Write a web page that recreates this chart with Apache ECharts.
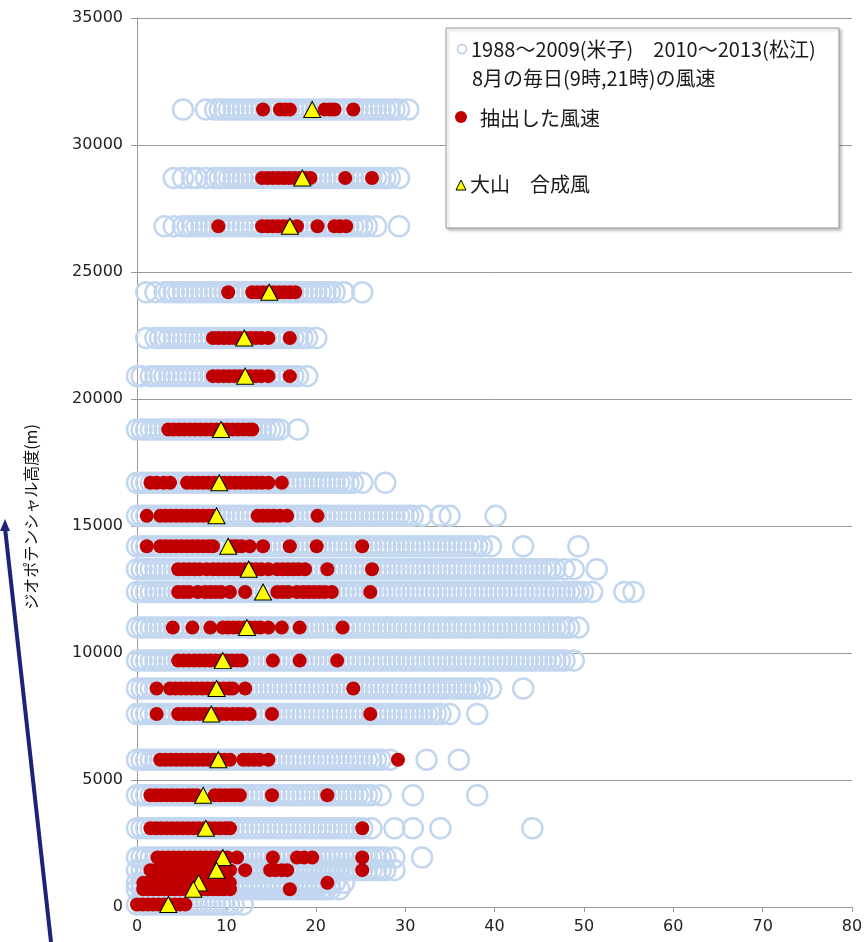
<!DOCTYPE html>
<html>
<head>
<meta charset="utf-8">
<script src="https://cdn.jsdelivr.net/npm/echarts@6/dist/echarts.min.js"></script>
<style>
html, body { margin: 0; padding: 0; background: #fff; }
#chart { width: 867px; height: 942px; }
</style>
</head>
<body>
<div id="chart"></div>
<script>
'use strict';
// pressure levels, geopotential height (m), top to bottom
var levels = [31400, 28700, 26800, 24200, 22400, 20900, 18800, 16700, 15400, 14200, 13300, 12400,
	11000, 9700, 8600, 7600, 5800, 4400, 3100, 1950, 1450, 950, 700, 100];

var obsKnots = [
	[10,15,17,18,19,20,21,22,23,24,25,26,27,28,29,30,31,32,33,34,35,36,37,38,39,40,41,42,43,44,45,46,47,48,49,50,51,52,53,54,55,56,57,59],
	[8,10,12,13,15,17,18,19,20,21,22,23,24,25,26,27,28,29,30,31,32,33,34,35,36,37,38,39,40,41,42,43,44,45,46,47,48,49,50,51,52,53,54,55,57],
	[6,8,10,11,12,13,14,15,16,17,18,19,20,21,22,23,24,25,26,27,28,29,30,31,32,33,34,35,36,37,38,39,40,41,42,43,44,45,46,47,48,49,50,52,57],
	[2,4,6,7,8,9,10,11,12,13,14,15,16,17,18,19,20,21,22,23,24,25,26,27,28,29,30,31,32,33,34,35,36,37,38,39,40,41,42,43,45,49],
	[2,4,5,6,7,8,9,10,11,12,13,14,15,16,17,18,19,20,21,22,23,24,25,26,27,28,29,30,31,32,33,34,35,36,37,39],
	[0,1,3,4,5,6,7,8,9,10,11,12,13,14,15,16,17,18,19,20,21,22,23,24,25,26,27,28,29,30,31,32,33,34,35,37],
	[0,1,2,3,4,5,6,7,8,9,10,11,12,13,14,15,16,17,18,19,20,21,22,23,24,25,26,27,28,29,30,31,35],
	[0,1,2,3,4,5,6,7,8,9,10,11,12,13,14,15,16,17,18,19,20,21,22,23,24,25,26,27,28,29,30,31,32,33,34,35,36,37,38,39,40,41,42,43,44,45,46,47,49,54],
	[0,1,2,3,4,5,6,7,8,9,10,11,12,13,14,15,16,17,18,19,20,21,22,23,24,25,26,27,28,29,30,31,32,33,34,35,36,37,38,39,40,41,42,43,44,45,46,47,48,49,50,51,52,53,54,55,56,57,58,59,60,62,66,68,78],
	[0,1,2,3,4,5,6,7,8,9,10,11,12,13,14,15,16,17,18,19,20,21,22,23,24,25,26,27,28,29,30,31,32,33,34,35,36,37,38,39,40,41,42,43,44,45,46,47,48,49,50,51,52,53,54,55,56,57,58,59,60,61,62,63,64,65,66,67,68,69,70,71,72,73,74,75,77,84,96],
	[0,1,2,3,4,5,6,7,8,9,10,11,12,13,14,15,16,17,18,19,20,21,22,23,24,25,26,27,28,29,30,31,32,33,34,35,36,37,38,39,40,41,42,43,44,45,46,47,48,49,50,51,52,53,54,55,56,57,58,59,60,61,62,63,64,65,66,67,68,69,70,71,72,73,74,75,76,77,78,79,80,81,82,83,84,85,86,87,88,89,90,91,93,95,100],
	[0,1,2,3,4,5,6,7,8,9,10,11,12,13,14,15,16,17,18,19,20,21,22,23,24,25,26,27,28,29,30,31,32,33,34,35,36,37,38,39,40,41,42,43,44,45,46,47,48,49,50,51,52,53,54,55,56,57,58,59,60,61,62,63,64,65,66,67,68,69,70,71,72,73,74,75,76,77,78,79,80,81,82,83,84,85,86,87,88,89,90,91,92,93,94,95,96,97,99,106,108],
	[0,1,2,3,4,5,6,7,8,9,10,11,12,13,14,15,16,17,18,19,20,21,22,23,24,25,26,27,28,29,30,31,32,33,34,35,36,37,38,39,40,41,42,43,44,45,46,47,48,49,50,51,52,53,54,55,56,57,58,59,60,61,62,63,64,65,66,67,68,69,70,71,72,73,74,75,76,77,78,79,80,81,82,83,84,85,86,87,88,89,90,91,92,93,94,96],
	[0,1,2,3,4,5,6,7,8,9,10,11,12,13,14,15,16,17,18,19,20,21,22,23,24,25,26,27,28,29,30,31,32,33,34,35,36,37,38,39,40,41,42,43,44,45,46,47,48,49,50,51,52,53,54,55,56,57,58,59,60,61,62,63,64,65,66,67,68,69,70,71,72,73,74,75,76,77,78,79,80,81,82,83,84,85,86,87,88,89,90,91,92,93,95],
	[0,1,2,3,4,5,6,7,8,9,10,11,12,13,14,15,16,17,18,19,20,21,22,23,24,25,26,27,28,29,30,31,32,33,34,35,36,37,38,39,40,41,42,43,44,45,46,47,48,49,50,51,52,53,54,55,56,57,58,59,60,61,62,63,64,65,66,67,68,69,70,71,72,73,74,75,77,84],
	[0,1,2,3,4,5,6,7,8,9,10,11,12,13,14,15,16,17,18,19,20,21,22,23,24,25,26,27,28,29,30,31,32,33,34,35,36,37,38,39,40,41,42,43,44,45,46,47,48,49,50,51,52,53,54,55,56,57,58,59,60,61,62,63,64,65,66,68,74],
	[0,1,2,3,4,5,6,7,8,9,10,11,12,13,14,15,16,17,18,19,20,21,22,23,24,25,26,27,28,29,30,31,32,33,34,35,36,37,38,39,40,41,42,43,44,45,46,47,48,49,50,51,52,53,55,63,70],
	[0,1,2,3,4,5,6,7,8,9,10,11,12,13,14,15,16,17,18,19,20,21,22,23,24,25,26,27,28,29,30,31,32,33,34,35,36,37,38,39,40,41,42,43,44,45,46,47,48,49,50,51,53,60,74],
	[0,1,2,3,4,5,6,7,8,9,10,11,12,13,14,15,16,17,18,19,20,21,22,23,24,25,26,27,28,29,30,31,32,33,34,35,36,37,38,39,40,41,42,43,44,45,46,47,48,49,51,56,60,66,86],
	[0,1,2,3,4,5,6,7,8,9,10,11,12,13,14,15,16,17,18,19,20,21,22,23,24,25,26,27,28,29,30,31,32,33,34,35,36,37,38,39,40,41,42,43,44,45,46,47,48,49,50,51,52,53,54,56,62],
	[0,1,2,3,4,5,6,7,8,9,10,11,12,13,14,15,16,17,18,19,20,21,22,23,24,25,26,27,28,29,30,31,32,33,34,35,36,37,38,39,40,41,42,43,44,45,46,47,48,49,50,51,52,53,54,56],
	[0,1,2,3,4,5,6,7,8,9,10,11,12,13,14,15,16,17,18,19,20,21,22,23,24,25,26,27,28,29,30,31,32,33,34,35,36,37,38,39,40,41,42,43,45],
	[0,1,2,3,4,5,6,7,8,9,10,11,12,13,14,15,16,17,18,19,20,21,22,23,24,25,26,27,28,29,30,31,32,33,34,35,36,37,38,39,40,41,42,44],
	[0,1,2,3,4,5,6,7,8,9,10,11,12,13,14,15,16,17,18,19,20,21,23]
];

// extracted winds (m/s), one list per level
var pickedSpeed = [
	[14.1, 16.0, 16.6, 17.1, 21.0, 21.6, 22.1, 24.2],
	[14.0, 14.6, 15.2, 15.8, 16.4, 17.0, 17.6, 18.2, 18.8, 19.4, 23.3, 26.3],
	[9.1, 14.0, 14.6, 15.2, 15.8, 16.4, 17.0, 17.9, 20.2, 22.1, 22.7, 23.4],
	[10.2, 12.9, 13.5, 14.1, 14.7, 15.3, 15.9, 16.5, 17.1, 17.7],
	[8.5, 9.1, 9.7, 10.3, 10.9, 11.5, 12.1, 12.7, 13.3, 13.9, 14.7, 17.1],
	[8.5, 9.1, 9.7, 10.3, 10.9, 11.5, 12.1, 12.7, 13.3, 13.9, 14.7, 17.1],
	[3.5, 4.1, 4.7, 5.3, 5.9, 6.5, 7.1, 7.7, 8.3, 8.9, 9.5, 10.1, 10.7, 11.3, 11.9, 12.5, 12.9],
	[1.5, 2.2, 3.0, 3.7, 5.6, 6.2, 6.8, 7.4, 8.0, 8.6, 9.2, 9.8, 10.4, 11.0, 11.6, 12.2, 12.8, 13.4, 14.0, 14.7, 16.2],
	[1.1, 2.6, 3.2, 3.8, 4.4, 5.0, 5.6, 6.2, 6.8, 7.4, 8.0, 8.5, 13.5, 14.1, 14.7, 15.3, 16.0, 16.8, 20.2],
	[1.1, 2.6, 3.2, 3.8, 4.4, 5.0, 5.6, 6.2, 6.8, 7.4, 8.0, 8.5, 10.6, 11.1, 11.7, 12.6, 14.1, 17.1, 20.1, 25.2],
	[4.6, 5.2, 5.8, 6.4, 7.0, 7.8, 8.5, 9.1, 9.7, 10.3, 10.9, 11.5, 12.1, 12.7, 13.3, 13.9, 14.7, 15.7, 16.3, 16.9, 17.5, 18.1, 18.8, 21.3, 26.3],
	[4.6, 5.2, 5.8, 6.8, 7.6, 8.2, 8.8, 9.4, 10.4, 12.1, 15.7, 16.3, 16.9, 17.9, 18.6, 19.2, 19.8, 20.4, 21.0, 21.8, 26.1],
	[4.0, 6.2, 8.2, 9.6, 10.2, 10.8, 11.4, 12.0, 12.6, 13.2, 13.8, 14.7, 16.2, 18.2, 23.0],
	[4.6, 5.2, 5.8, 6.4, 7.0, 7.6, 8.2, 8.8, 9.4, 10.0, 10.6, 11.2, 11.7, 15.2, 18.2, 22.4],
	[2.2, 3.7, 4.3, 4.9, 5.5, 6.1, 6.7, 7.3, 7.9, 8.5, 9.1, 9.7, 10.3, 10.7, 12.1, 24.2],
	[2.2, 4.6, 5.2, 5.8, 6.4, 7.0, 7.6, 8.2, 8.8, 9.4, 10.0, 10.7, 11.3, 11.9, 12.6, 15.1, 26.1],
	[2.6, 3.2, 3.8, 4.4, 5.0, 5.6, 6.2, 6.8, 7.4, 8.0, 8.6, 9.2, 9.8, 10.4, 11.9, 12.5, 13.1, 13.7, 14.7, 29.2],
	[1.5, 2.1, 2.7, 3.3, 3.9, 4.5, 5.1, 5.7, 6.2, 6.7, 8.7, 9.3, 9.9, 10.5, 11.0, 11.5, 15.1, 21.3],
	[1.5, 2.1, 2.7, 3.3, 3.9, 4.5, 5.1, 5.7, 6.3, 6.9, 7.5, 8.1, 8.7, 9.3, 9.9, 10.4, 25.2],
	[2.3, 2.9, 3.5, 4.1, 4.7, 5.3, 5.9, 6.5, 7.1, 7.7, 8.3, 8.9, 9.5, 10.1, 11.2, 15.2, 17.9, 18.7, 19.6, 25.2],
	[1.5, 2.1, 2.7, 3.3, 3.9, 4.5, 5.1, 5.7, 6.3, 6.9, 7.5, 8.1, 8.7, 9.3, 9.9, 10.4, 12.1, 14.9, 15.5, 16.2, 16.8, 25.2],
	[0.7, 1.3, 1.9, 2.5, 3.1, 3.7, 4.3, 4.9, 5.5, 6.1, 6.7, 7.3, 7.9, 8.5, 9.1, 9.7, 10.4, 21.3],
	[0.7, 1.3, 1.9, 2.5, 3.1, 3.7, 4.3, 4.9, 5.5, 6.1, 6.7, 7.3, 7.9, 8.5, 9.1, 9.7, 10.4, 17.1],
	[0, 0.6, 1.2, 1.8, 2.4, 3.0, 3.6, 4.2, 4.8, 5.4]
];

// Daisen resultant wind (m/s), one per level
var daisenSpeed = [19.6, 18.5, 17.1, 14.8, 12.0, 12.1, 9.4, 9.2, 8.9, 10.2, 12.5, 14.1,
	12.3, 9.6, 8.9, 8.3, 9.1, 7.4, 7.7, 9.6, 8.9, 6.9, 6.3, 3.5];

var xTicks = [0, 80, 10];
var yTicks = [0, 35000, 5000];

var KT = 0.5144;

var obsData = [];
var pickedData = [];
var daisenData = [];
for (var i = 0; i < levels.length; i++) {
	for (var j = 0; j < obsKnots[i].length; j++) {
		obsData.push([obsKnots[i][j] * KT, levels[i]]);
	}
	for (var k = 0; k < pickedSpeed[i].length; k++) {
		pickedData.push([pickedSpeed[i][k], levels[i]]);
	}
	daisenData.push([daisenSpeed[i], levels[i]]);
}

var font = '"Noto Sans CJK JP", "Noto Sans", sans-serif';
var numFont = '"DejaVu Sans", sans-serif';

var myChart = echarts.init(document.getElementById('chart'));
var option = {
	animation: false,
	backgroundColor: '#fff',
	grid: { left: 137, right: 15, top: 18, bottom: 35 },
	xAxis: {
		type: 'value',
		min: xTicks[0], max: xTicks[1], interval: xTicks[2],
		axisLine: { show: true, lineStyle: { color: '#999', width: 1 } },
		axisTick: { show: true, length: 5, lineStyle: { color: '#999' } },
		splitLine: { show: false },
		axisLabel: { fontSize: 16, color: '#222', fontFamily: numFont, margin: 12 }
	},
	yAxis: {
		type: 'value',
		min: yTicks[0], max: yTicks[1], interval: yTicks[2],
		axisLine: { show: true, lineStyle: { color: '#999', width: 1 } },
		axisTick: { show: true, length: 6, lineStyle: { color: '#999' } },
		splitLine: { show: true, lineStyle: { color: '#999', width: 1 } },
		axisLabel: {
			fontSize: 16, color: '#222', fontFamily: numFont, margin: 14,
			formatter: function(v) { return String(v); }
		}
	},
	series: [{
		name: '1988～2009(米子)　2010～2013(松江)',
		type: 'scatter',
		data: obsData,
		symbol: 'circle',
		symbolSize: 20,
		clip: false,
		silent: true,
		itemStyle: { color: 'rgba(255,255,255,0)', borderColor: '#c3d6ef', borderWidth: 2.5, opacity: 1 }
	}, {
		name: '抽出した風速',
		type: 'scatter',
		data: pickedData,
		symbol: 'circle',
		symbolSize: 14,
		clip: false,
		silent: true,
		itemStyle: { color: '#c00000', opacity: 1 }
	}, {
		name: '大山　合成風',
		type: 'scatter',
		data: daisenData,
		symbol: 'triangle',
		symbolSize: [17, 16],
		clip: false,
		silent: true,
		itemStyle: { color: '#ffff00', borderColor: '#000', borderWidth: 1, opacity: 1 }
	}],
	graphic: [
		// legend box
		{
			type: 'rect', shape: { x: 446, y: 28, width: 393, height: 200 },
			style: { fill: '#fff', stroke: '#999', lineWidth: 1, shadowBlur: 3, shadowColor: 'rgba(0,0,0,0.25)', shadowOffsetX: 2, shadowOffsetY: 2 },
			z: 10
		},
		{ type: 'circle', shape: { cx: 462, cy: 49, r: 4.5 }, style: { fill: 'none', stroke: '#b5cbe8', lineWidth: 1.5 }, z: 11 },
		{ type: 'text', style: { text: '1988～2009(米子)　2010～2013(松江)', x: 471, y: 49, verticalAlign: 'middle', font: '20px ' + font, fill: '#1a1a1a' }, z: 11 },
		{ type: 'text', style: { text: '8月の毎日(9時,21時)の風速', x: 472, y: 78, verticalAlign: 'middle', font: '20px ' + font, fill: '#1a1a1a' }, z: 11 },
		{ type: 'circle', shape: { cx: 461, cy: 117, r: 6 }, style: { fill: '#c00000' }, z: 11 },
		{ type: 'text', style: { text: '抽出した風速', x: 480, y: 118, verticalAlign: 'middle', font: '20px ' + font, fill: '#1a1a1a' }, z: 11 },
		{ type: 'polygon', shape: { points: [[456, 190], [466, 190], [461, 180]] }, style: { fill: '#ffff00', stroke: '#000', lineWidth: 1 }, z: 11 },
		{ type: 'text', style: { text: '大山　合成風', x: 470, y: 184, verticalAlign: 'middle', font: '20px ' + font, fill: '#1a1a1a' }, z: 11 },
		// y axis title
		{
			type: 'text', x: 31, y: 517, rotation: Math.PI / 2,
			style: { text: 'ジオポテンシャル高度(m)', x: 0, y: 0, align: 'center', verticalAlign: 'middle', font: '16px ' + font, fill: '#111' }
		},
		// navy pointer line on the left edge
		{ type: 'line', shape: { x1: 5, y1: 528, x2: 51, y2: 942 }, style: { stroke: '#1c2378', lineWidth: 4 } },
		{ type: 'polygon', shape: { points: [[5, 519], [10, 531], [0, 531]] }, style: { fill: '#1c2378' } }
	]
};
myChart.setOption(option);
</script>
</body>
</html>
